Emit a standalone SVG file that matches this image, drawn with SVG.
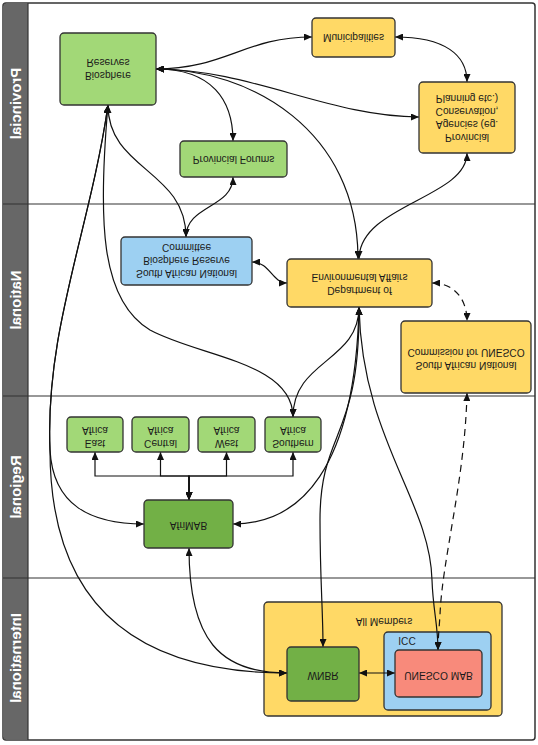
<svg xmlns="http://www.w3.org/2000/svg" width="538" height="745" viewBox="0 0 538 745">
<defs>
<style>
.t{font-family:"Liberation Sans",Arial,sans-serif;font-size:10.2px;fill:#1a1a1a;text-anchor:middle;dominant-baseline:central}
.lane{font-family:"Liberation Sans",Arial,sans-serif;font-size:15px;font-weight:bold;fill:#ffffff;text-anchor:middle;dominant-baseline:central}
.box{stroke:#333;stroke-width:1.3}
.lg{fill:#a2d877}
.dg{fill:#72b046}
.yl{fill:#ffd966}
.bl{fill:#9dd0f2}
.rd{fill:#f88a7b}
.e{fill:none;stroke:#111;stroke-width:1.2;marker-start:url(#ar);marker-end:url(#ar)}
.d{stroke-dasharray:7,5}
.sep{stroke:#333;stroke-width:1.2}
</style>
<marker id="ar" viewBox="0 0 10 10" refX="10" refY="5" markerWidth="8" markerHeight="7" markerUnits="userSpaceOnUse" orient="auto-start-reverse" preserveAspectRatio="none"><path d="M0,0 L10,5 L0,10 z" fill="#111"/></marker>
</defs>
<rect x="0" y="0" width="538" height="745" fill="#ffffff"/>
<g id="lanes">
<rect x="3" y="3" width="532" height="737" rx="3" fill="#ffffff" stroke="#333" stroke-width="1.5"/>
<rect x="3.7" y="3.7" width="24.3" height="735.6" fill="#676767"/>
<line class="sep" x1="28" y1="3" x2="28" y2="740"/>
<line class="sep" x1="3" y1="204" x2="535" y2="204"/>
<line class="sep" x1="3" y1="396" x2="535" y2="396"/>
<line class="sep" x1="3" y1="578" x2="535" y2="578"/>
<text class="lane" transform="matrix(1 0 0 -1 15.5 103.5) rotate(-90)">Provincial</text>
<text class="lane" transform="matrix(1 0 0 -1 15.5 300) rotate(-90)">National</text>
<text class="lane" transform="matrix(1 0 0 -1 15.5 487) rotate(-90)">Regional</text>
<text class="lane" transform="matrix(1 0 0 -1 15.5 658) rotate(-90)">International</text>
</g>
<g id="allmembers">
<rect class="box yl" x="264" y="602" width="238" height="114" rx="4"/>
<text class="t" transform="matrix(1 0 0 -1 384 621)">All Members</text>
</g>
<g id="icc">
<rect class="box bl" x="384" y="632" width="107" height="78" rx="4"/>
<text class="t" transform="matrix(1 0 0 -1 407 640)">ICC</text>
</g>
<g id="connectors">
<path class="e" d="M156,69 C225,69 245,37 312,37"/>
<path class="e" d="M156,69 C212,69 233,100 233,141"/>
<path class="e" d="M156,69 C250,69 330,117 419,117"/>
<path class="e" d="M156,69 C250,69 358,130 358,259"/>
<path class="e" d="M395,37 C445,37 467,55 467,82"/>
<path class="e" d="M467,153 C467,198 359,205 359,259"/>
<path class="e" d="M233,177 C233,208 186,205 186,237"/>
<path class="e" d="M108,105 C108,170 186,170 186,237"/>
<path class="e" d="M108,105 C98,220 100,300 150,330 C200,357 293,362 293,417"/>
<path class="e" d="M108,105 C90,230 45,330 50,450 C53,505 90,524 144,524"/>
<path class="e" d="M108,105 C90,230 45,330 50,450 C50,600 130,673 287,673"/>
<path class="e" d="M189,548 C189,640 220,673 287,673"/>
<path class="e" d="M359,307 C359,362 293,360 293,417"/>
<path class="e" d="M359,307 C355,470 300,524 233,524"/>
<path class="e" d="M359,307 C360,440 320,430 320,520 C320,580 323,610 323,647"/>
<path class="e" d="M359,307 C362,440 430,500 432,580 C433,610 438,625 438,650"/>
<path class="e" d="M252,262 C270,262 272,283 287,283"/>
<path class="e d" d="M432,283 C455,283 467,300 467,321"/>
<path class="e d" d="M467,393 C465,480 442,560 440,615 C439,630 438,640 438,650"/>
<path class="e" d="M359,673 L395,673"/>
<path class="e" d="M189,500 L189,476 L95,476 L95,452"/>
<path class="e" d="M189,500 L189,476 L160.5,476 L160.5,452"/>
<path class="e" d="M189,500 L189,476 L226.5,476 L226.5,452"/>
<path class="e" d="M189,500 L189,476 L293,476 L293,452"/>
</g>
<g id="biosphere-reserves">
<rect class="box lg" x="60" y="33" width="96" height="72" rx="4"/>
<text class="t" transform="matrix(1 0 0 -1 108 69)"><tspan x="0" y="-6.5">Biosphere</tspan><tspan x="0" y="6.5">Reserves</tspan></text>
</g>
<g id="provincial-forums">
<rect class="box lg" x="180" y="141" width="107" height="36" rx="4"/>
<text class="t" transform="matrix(1 0 0 -1 233.5 159)">Provincial Forums</text>
</g>
<g id="municipalities">
<rect class="box yl" x="312" y="18" width="83" height="39" rx="4"/>
<text class="t" transform="matrix(1 0 0 -1 353.5 37.5)">Municipalities</text>
</g>
<g id="provincial-agencies">
<rect class="box yl" x="419" y="82" width="96" height="71" rx="4"/>
<text class="t" transform="matrix(1 0 0 -1 467 118)"><tspan x="0" y="-19.5">Provincial</tspan><tspan x="0" y="-6.5">Agencies (eg.</tspan><tspan x="0" y="6.5">Conservation,</tspan><tspan x="0" y="19.5">Planning etc.)</tspan></text>
</g>
<g id="sanbrc">
<rect class="box bl" x="121" y="237" width="131" height="48" rx="4"/>
<text class="t" transform="matrix(1 0 0 -1 186.5 261)"><tspan x="0" y="-13">South African National</tspan><tspan x="0" y="0">Biosphere Reserve</tspan><tspan x="0" y="13">Committee</tspan></text>
</g>
<g id="dea">
<rect class="box yl" x="287" y="259" width="145" height="48" rx="4"/>
<text class="t" transform="matrix(1 0 0 -1 359.5 284.5)"><tspan x="0" y="-6.5">Department of</tspan><tspan x="0" y="6.5">Environmental Affairs</tspan></text>
</g>
<g id="sanc-unesco">
<rect class="box yl" x="401" y="321" width="130" height="72" rx="4"/>
<text class="t" transform="matrix(1 0 0 -1 466 359)"><tspan x="0" y="-6.5">South African National</tspan><tspan x="0" y="6.5">Commission for UNESCO</tspan></text>
</g>
<g id="east-africa">
<rect class="box lg" x="67" y="417" width="56" height="35" rx="4"/>
<text class="t" transform="matrix(1 0 0 -1 95 437.5)"><tspan x="0" y="-6.5">East</tspan><tspan x="0" y="6.5">Africa</tspan></text>
</g>
<g id="central-africa">
<rect class="box lg" x="132" y="417" width="57" height="35" rx="4"/>
<text class="t" transform="matrix(1 0 0 -1 160.5 437.5)"><tspan x="0" y="-6.5">Central</tspan><tspan x="0" y="6.5">Africa</tspan></text>
</g>
<g id="west-africa">
<rect class="box lg" x="198" y="417" width="57" height="35" rx="4"/>
<text class="t" transform="matrix(1 0 0 -1 226.5 437.5)"><tspan x="0" y="-6.5">West</tspan><tspan x="0" y="6.5">Africa</tspan></text>
</g>
<g id="southern-africa">
<rect class="box lg" x="265" y="417" width="56" height="35" rx="4"/>
<text class="t" transform="matrix(1 0 0 -1 293 437.5)"><tspan x="0" y="-6.5">Southern</tspan><tspan x="0" y="6.5">Africa</tspan></text>
</g>
<g id="afrimab">
<rect class="box dg" x="144" y="500" width="89" height="48" rx="4"/>
<text class="t" transform="matrix(1 0 0 -1 188.5 525)">AfriMAB</text>
</g>
<g id="wnbr">
<rect class="box dg" x="287" y="647" width="72" height="54" rx="4"/>
<text class="t" transform="matrix(1 0 0 -1 323 675)">WNBR</text>
</g>
<g id="unesco-mab">
<rect class="box rd" x="395" y="650" width="87" height="47" rx="4"/>
<text class="t" transform="matrix(1 0 0 -1 438.5 675)">UNESCO MAB</text>
</g>
</svg>
